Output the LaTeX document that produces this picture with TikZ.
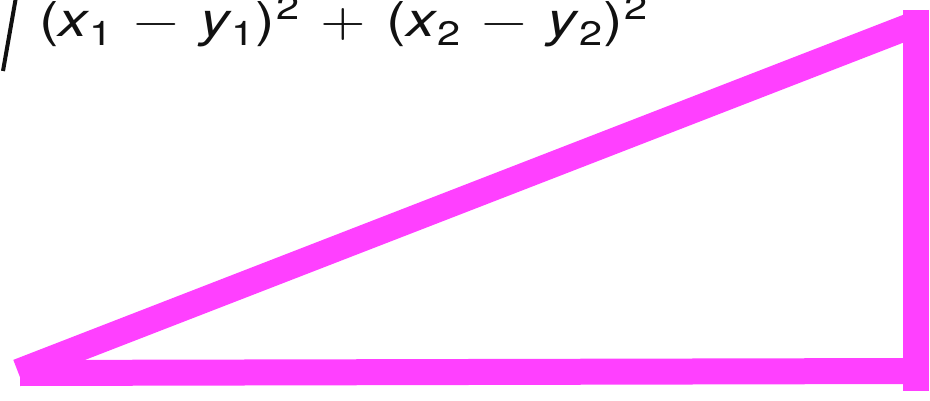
\documentclass[tikz,border=0pt]{standalone}
\usepackage{fontspec}
\usepackage{unicode-math}
\setmainfont{TeX Gyre Heros}
\setmathfont{Latin Modern Math}
\usepackage{xcolor}
\definecolor{cPink}{HTML}{FF40FF}
\definecolor{cInk}{HTML}{111111}
\usetikzlibrary{positioning,calc}
\tikzset{
  edge-side/.style={draw=cPink,line width=26pt,line cap=butt},
  formula/.style={font=\fontsize{48}{48}\selectfont,text=cInk,inner sep=0pt,anchor=base west},
  radical/.style={draw=cInk,line width=4pt},
}
\newcommand\lowidx[1]{\raisebox{-9pt}{\fontsize{34}{34}\selectfont#1}}
\newcommand\highidx[1]{\hspace{1pt}\raisebox{17pt}{\fontsize{34}{34}\selectfont#1}}
\newcommand\opgap{\hspace{17pt}}
\newcommand\stretchx[1]{\scalebox{1.22}[1]{#1}}

\begin{document}
\begin{tikzpicture}[x=1pt,y=-1pt]
  \useasboundingbox (0,0) rectangle (930,401);
  % triangle corners
  \coordinate (base-left) at (20,373);
  \coordinate (base-right) at (916,371);
  \coordinate (hyp-left) at (18,372);
  \coordinate (hyp-right) at (918,23);
  \coordinate (leg-top) at (916,10);
  \coordinate (leg-bottom) at (916,391);
  \draw[edge-side] (base-left) -- (base-right);
  \draw[edge-side] (hyp-left) -- (hyp-right);
  \draw[edge-side] (leg-top) -- (leg-bottom);
  % distance formula, cut off at the left
  \node[formula] (dist) at (39,37)
    {\stretchx{(\textit{x}\lowidx{1}\opgap$-$\opgap\textit{y}\lowidx{1}\hspace{1pt})\highidx{2}\opgap$+$\opgap(\textit{x}\lowidx{2}\opgap$-$\opgap\textit{y}\lowidx{2}\hspace{1pt})\highidx{2}}};
  \coordinate (rad-foot) at (3,71);
  \coordinate (rad-top) at (16,-3);
  \draw[radical] (rad-foot) -- (rad-top);
\end{tikzpicture}
\end{document}
